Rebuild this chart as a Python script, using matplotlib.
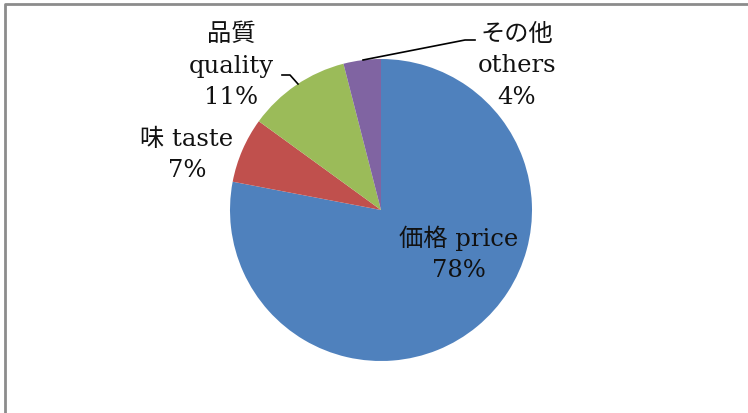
import matplotlib
matplotlib.use("Agg")
import matplotlib.pyplot as plt

plt.rcParams['font.family'] = ['DejaVu Serif', 'Noto Sans CJK JP']

labels = ['価格 price', '味 taste', '品質\nquality', 'その他\nothers']
shares = [78, 7, 11, 4]
colors = ['#4F81BD', '#C0504D', '#9BBB59', '#8064A2']

W, H = 748, 413
fig = plt.figure(figsize=(W / 100, H / 100), dpi=100)
ax = fig.add_axes([0, 0, 1, 1])

cx, cy, r = 381, H - 210, 151
wedges, _ = ax.pie(shares, colors=colors, startangle=90, counterclock=False,
                   center=(cx, cy), radius=r, frame=True,
                   wedgeprops=dict(linewidth=0))
ax.set_xlim(0, W)
ax.set_ylim(0, H)
ax.axis('off')

# label positions (pixel coords from top-left)
label_pos = [(459, 254), (187, 155), (231, 66), (517, 66)]
for lab, val, (px, py) in zip(labels, shares, label_pos):
    ax.text(px, H - py, f"{lab}\n{val}%", ha='center', va='center',
            fontsize=17.5, linespacing=1.45, color='#111111')

# leader lines
ax.plot([363, 465, 475], [H - 60, H - 40, H - 40], color='black', lw=1.2)
ax.plot([282, 290, 298], [H - 75, H - 75, H - 84], color='black', lw=1.2)

# outer frame (top and left edges)
ax.plot([5.5, 5.5, W], [0, H - 3.5, H - 3.5], color='#8c8c8c', lw=2,
        solid_capstyle='butt', clip_on=False)

fig.savefig('out.png', dpi=100)
